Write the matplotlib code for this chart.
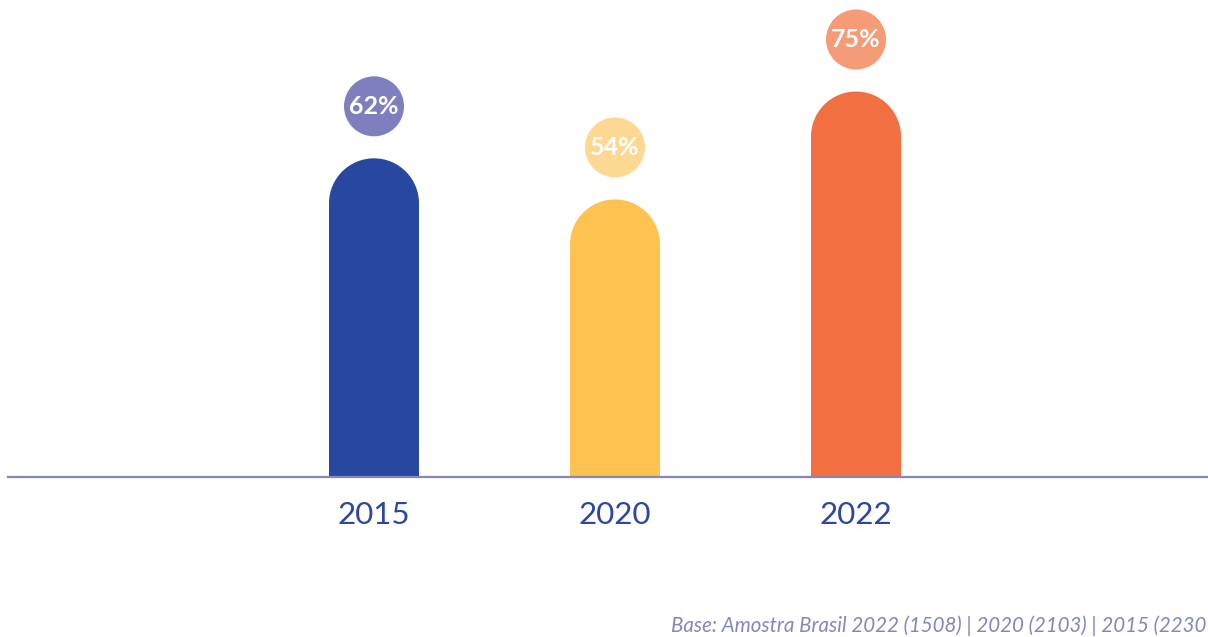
import matplotlib.pyplot as plt

# data
years = ['2015', '2020', '2022']
values = [62, 54, 75]
bar_colors = ['#28479e', '#fdc350', '#f26f42']
bubble_colors = ['#7f7fbf', '#fdd893', '#f69b77']
note = 'Base: Amostra Brasil 2022 (1508) | 2020 (2103) | 2015 (2230'

W, H = 1208, 637
fig = plt.figure(figsize=(W / 100, H / 100), dpi=100)
# axes from x=8px to right edge, baseline at y=477px from top
ax = fig.add_axes([8 / W, (H - 477) / H, 1 - 8 / W, 477 / H])

px_per_x = 241.0
px_per_y = 5.14
ax.set_xlim(-366 / px_per_x, (1208 - 374) / px_per_x)
ax.set_ylim(0, 477 / px_per_y)

x = list(range(len(years)))
bar_w = 90 / px_per_x
cap_r = 45 / px_per_y  # radius of rounded top in data units

# bar body + round cap
ax.bar(x, [v - cap_r for v in values], width=bar_w, color=bar_colors,
       linewidth=0, zorder=2)
cap_d_pt = 90 * 72 / 100
ax.scatter(x, [v - cap_r for v in values], s=cap_d_pt ** 2, c=bar_colors,
           linewidths=0, zorder=2, clip_on=False)

# value bubbles
bub_off = 52 / px_per_y
bub_d_pt = 60 * 72 / 100
ax.scatter(x, [v + bub_off for v in values], s=bub_d_pt ** 2, c=bubble_colors,
           linewidths=0, zorder=3, clip_on=False)
for i, v in enumerate(values):
    ax.text(i, v + bub_off, f'{v}%', ha='center', va='center', color='white',
            fontsize=18, fontweight='bold', family=['Lato', 'DejaVu Sans'],
            zorder=4)

for s in ['top', 'left', 'right']:
    ax.spines[s].set_visible(False)
ax.spines['bottom'].set_color('#8585c0')
ax.spines['bottom'].set_linewidth(1.6)
ax.set_yticks([])
ax.set_xticks(x)
ax.set_xticklabels(years, fontsize=22.5, family=['Lato', 'DejaVu Sans'])
ax.tick_params(axis='x', length=0, pad=17, labelcolor='#2b47a0')

fig.text(1206 / W, 1 - 626 / H, note, ha='right', va='center', color='#8585c4',
         fontsize=14.8, style='italic', family=['Lato', 'DejaVu Sans'])

fig.savefig('out.png', dpi=100)
